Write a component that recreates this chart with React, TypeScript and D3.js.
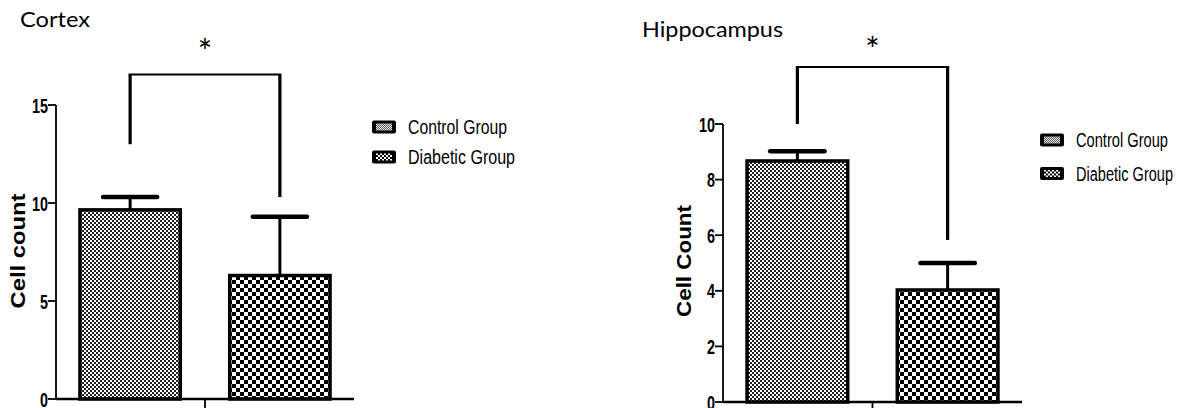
import React from 'react';
import * as d3 from 'd3';

const GROUPS = ['Control Group', 'Diabetic Group'];

// Cortex panel
const CORTEX_MEAN = [9.65, 6.3];
const CORTEX_SEM = [0.65, 3.0];
const CORTEX_TICKS = [0, 5, 10, 15];
const CORTEX_SIG = [13.0, 16.55, 10.3]; // left leg end, bracket top, right leg end

// Hippocampus panel
const HIPPO_MEAN = [8.67, 4.03];
const HIPPO_SEM = [0.35, 0.97];
const HIPPO_TICKS = [0, 2, 4, 6, 8, 10];
const HIPPO_SIG = [10.0, 12.05, 5.83];

const W = 1190;
const H = 408;
const LABEL_FONT = 'Arial, "Liberation Sans", sans-serif';
const TITLE_FONT = 'Lato, Calibri, "Open Sans", sans-serif';

type PanelCfg = {
  title: string;
  titleX: number;
  titleY: number;
  titleLen: number;
  yLabel: string;
  yLabelX: number;
  yLabelY: number;
  yLabelLen: number;
  x0: number;
  x1: number;
  yBottom: number;
  yTop: number;
  yMax: number;
  legendX: number;
  legendY: number;
  legendGap: number;
  legendLens: number[];
  starY: number;
};

function Panel({ cfg, means, sems, ticks, sig }: { cfg: PanelCfg; means: number[]; sems: number[]; ticks: number[]; sig: number[] }) {
  const x = d3.scaleBand<string>().domain(GROUPS).range([cfg.x0, cfg.x1]).paddingInner(0.33).paddingOuter(0.16);
  const y = d3.scaleLinear().domain([0, cfg.yMax]).range([cfg.yBottom, cfg.yTop]);
  const bw = x.bandwidth();
  const fills = ['url(#pCtrl)', 'url(#pDiab)'];
  const legFills = ['url(#pLegC)', 'url(#pLegD)'];
  const cx = GROUPS.map(g => (x(g) as number) + bw / 2);
  const mid = (cx[0] + cx[1]) / 2;

  return (
    <g>
      <text x={cfg.titleX} y={cfg.titleY} fontFamily={TITLE_FONT} fontSize={21} fill="#000"
        textLength={cfg.titleLen} lengthAdjust="spacingAndGlyphs">{cfg.title}</text>

      {/* bars */}
      {GROUPS.map((g, i) => (
        <rect key={g} x={x(g)} y={y(means[i])} width={bw} height={y(0) - y(means[i])}
          fill={fills[i]} stroke="#000" strokeWidth={3.5} />
      ))}

      {/* error bars (upper only) */}
      {GROUPS.map((g, i) => (
        <g key={'e' + g}>
          <line x1={cx[i]} x2={cx[i]} y1={y(means[i])} y2={y(means[i] + sems[i])} stroke="#000" strokeWidth={3} />
          <line x1={cx[i] - bw * 0.27} x2={cx[i] + bw * 0.27} y1={y(means[i] + sems[i])} y2={y(means[i] + sems[i])}
            stroke="#000" strokeWidth={4.5} strokeLinecap="round" />
        </g>
      ))}

      {/* axes */}
      <line x1={cfg.x0} x2={cfg.x0} y1={y(cfg.yMax)} y2={y(0)} stroke="#000" strokeWidth={1.8} />
      <line x1={cfg.x0} x2={cfg.x1} y1={y(0)} y2={y(0)} stroke="#000" strokeWidth={2.3} />
      <line x1={mid} x2={mid} y1={y(0)} y2={y(0) + 10} stroke="#000" strokeWidth={1.8} />
      {ticks.map(t => (
        <g key={t}>
          <line x1={cfg.x0 - 8} x2={cfg.x0} y1={y(t)} y2={y(t)} stroke="#000" strokeWidth={1.8} />
          <text x={cfg.x0 - 8} y={y(t)} dy="0.36em" textAnchor="end" fontFamily={LABEL_FONT} fontWeight="bold"
            fontSize={21} textLength={String(t).length * 8} lengthAdjust="spacingAndGlyphs" fill="#000">{t}</text>
        </g>
      ))}
      <text transform={`translate(${cfg.yLabelX},${cfg.yLabelY}) rotate(-90)`} textAnchor="middle" dy="0.36em"
        fontFamily={LABEL_FONT} fontWeight="bold" fontSize={20} textLength={cfg.yLabelLen}
        lengthAdjust="spacingAndGlyphs" fill="#000">{cfg.yLabel}</text>

      {/* significance bracket */}
      <path d={`M${cx[0]},${y(sig[0])}V${y(sig[1])}`} stroke="#000" strokeWidth={3.2} fill="none" />
      <path d={`M${cx[1]},${y(sig[2])}V${y(sig[1])}`} stroke="#000" strokeWidth={3.2} fill="none" />
      <line x1={cx[0] - 1.5} x2={cx[1] + 1.5} y1={y(sig[1])} y2={y(sig[1])} stroke="#000" strokeWidth={2} />
      <text x={mid} y={cfg.starY} textAnchor="middle" fontFamily={TITLE_FONT} fontSize={34} fill="#000">*</text>

      {/* legend */}
      {GROUPS.map((g, i) => (
        <g key={'l' + g} transform={`translate(${cfg.legendX},${cfg.legendY + i * cfg.legendGap})`}>
          <rect x={0} y={-6.5} width={24} height={13} rx={2} fill="#000" />
          <rect x={4} y={-3.5} width={16} height={7} fill={legFills[i]} />
          <g transform="translate(36,0) scale(1,1.25)">
            <text x={0} y={0} dy="0.36em" fontFamily={LABEL_FONT} fontSize={16} fill="#000"
              textLength={cfg.legendLens[i]} lengthAdjust="spacingAndGlyphs">{g}</text>
          </g>
        </g>
      ))}
    </g>
  );
}

const CORTEX_CFG: PanelCfg = {
  title: 'Cortex', titleX: 20, titleY: 27, titleLen: 70,
  yLabel: 'Cell count', yLabelX: 17.5, yLabelY: 251, yLabelLen: 115,
  x0: 56, x1: 354, yBottom: 399, yTop: 105, yMax: 15,
  legendX: 372, legendY: 127, legendGap: 30, legendLens: [99, 107],
  starY: 63.5,
};

const HIPPO_CFG: PanelCfg = {
  title: 'Hippocampus', titleX: 642, titleY: 37, titleLen: 141,
  yLabel: 'Cell Count', yLabelX: 683.5, yLabelY: 261, yLabelLen: 112,
  x0: 723, x1: 1022, yBottom: 402, yTop: 124, yMax: 10,
  legendX: 1040, legendY: 140, legendGap: 33.5, legendLens: [92, 97],
  starY: 61.5,
};

export default function App() {
  return (
    <svg width={W} height={H} style={{ position: 'absolute', left: 0, top: 0, background: '#fff' }}>
      <defs>
        <pattern id="pCtrl" width={4} height={4} patternUnits="userSpaceOnUse">
          <rect width={4} height={4} fill="#fff" />
          <rect width={2} height={2} fill="#222" />
          <rect x={2} y={2} width={2} height={2} fill="#222" />
        </pattern>
        <pattern id="pDiab" width={8} height={8} patternUnits="userSpaceOnUse">
          <rect width={8} height={8} fill="#fff" />
          <rect width={4} height={4} fill="#000" />
          <rect x={4} y={4} width={4} height={4} fill="#000" />
        </pattern>
        <pattern id="pLegC" width={2} height={2} patternUnits="userSpaceOnUse">
          <rect width={2} height={2} fill="#ddd" />
          <rect width={1} height={1} fill="#666" />
          <rect x={1} y={1} width={1} height={1} fill="#666" />
        </pattern>
        <pattern id="pLegD" width={4} height={4} patternUnits="userSpaceOnUse">
          <rect width={4} height={4} fill="#000" />
          <rect width={2} height={2} fill="#fff" />
          <rect x={2} y={2} width={2} height={2} fill="#fff" />
        </pattern>
      </defs>
      <rect width={W} height={H} fill="#fff" />
      <Panel cfg={CORTEX_CFG} means={CORTEX_MEAN} sems={CORTEX_SEM} ticks={CORTEX_TICKS} sig={CORTEX_SIG} />
      <Panel cfg={HIPPO_CFG} means={HIPPO_MEAN} sems={HIPPO_SEM} ticks={HIPPO_TICKS} sig={HIPPO_SIG} />
    </svg>
  );
}
